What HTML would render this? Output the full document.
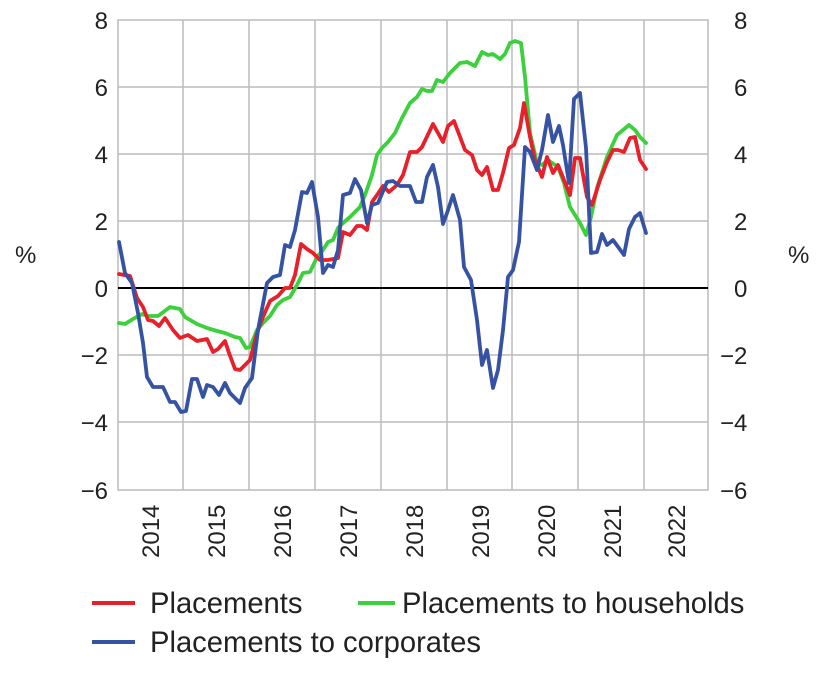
<!DOCTYPE html>
<html><head><style>body{margin:0;background:#fff}svg{display:block}text{font-family:"Liberation Sans",sans-serif;fill:#222}</style></head><body>
<svg width="828" height="686" viewBox="0 0 828 686">
<g stroke="#bbb" stroke-width="1.5" fill="none">
<rect x="118" y="20" width="590" height="470"/>
<path d="M183 20V490M249 20V490M315 20V490M381 20V490M447 20V490M512 20V490M578 20V490M644 20V490"/>
<path d="M118 87H708M118 154H708M118 221H708M118 355H708M118 422H708"/>
</g>
<line x1="118" y1="288" x2="708" y2="288" stroke="#000" stroke-width="2"/>
<g font-size="24" text-anchor="end">
<text x="108" y="29">8</text><text x="108" y="96">6</text><text x="108" y="163">4</text><text x="108" y="230">2</text><text x="108" y="297">0</text><text x="108" y="364">−2</text><text x="108" y="431">−4</text><text x="108" y="499">−6</text>
</g>
<g font-size="24" text-anchor="start">
<text x="734" y="29">8</text><text x="734" y="96">6</text><text x="734" y="163">4</text><text x="734" y="230">2</text><text x="734" y="297">0</text><text x="720" y="364">−2</text><text x="720" y="431">−4</text><text x="720" y="499">−6</text>
</g>
<text x="15" y="263" font-size="24">%</text><text x="788" y="263" font-size="24">%</text>
<g font-size="24" text-anchor="start">
<text transform="translate(159,558) rotate(-90)">2014</text>
<text transform="translate(225,558) rotate(-90)">2015</text>
<text transform="translate(291,558) rotate(-90)">2016</text>
<text transform="translate(357,558) rotate(-90)">2017</text>
<text transform="translate(423,558) rotate(-90)">2018</text>
<text transform="translate(489,558) rotate(-90)">2019</text>
<text transform="translate(555,558) rotate(-90)">2020</text>
<text transform="translate(621,558) rotate(-90)">2021</text>
<text transform="translate(685,558) rotate(-90)">2022</text>
</g>
<g fill="none" stroke-width="3.8" stroke-linejoin="round" stroke-linecap="round">
<polyline stroke="#3cd03c" points="119,323 125,324 133,319 142,314 148,316 158,316 170,307 180,309 185,317 197,324 207,328 217,331 225,333 235,337 240,338 246,348 250,347 257,330 263,323 270,316 277,305 283,300 290,297 297,285 303,273 310,272 317,257 323,250 328,242 333,240 338,228 343,223 350,217 360,207 365,195 372,175 377,155 382,148 388,142 395,133 402,118 410,103 417,97 422,89 427,91 432,91 437,80 443,82 450,73 460,63 467,62 475,66 482,52 488,55 493,54 500,59 505,54 510,43 515,41 521,43 525,77 530,133 537,163 542,165 548,160 558,167 564,183 570,207 580,223 586,235 591,217 597,188 607,157 617,135 623,130 629,125 635,130 640,137 646,143"/>
<polyline stroke="#e8202a" points="119,274 130,276 137,298 143,307 148,320 153,321 159,326 165,318 173,330 180,338 188,335 197,341 207,339 213,352 218,349 225,341 229,353 235,369 240,370 250,360 257,333 263,317 270,301 278,296 285,288 290,288 295,275 301,244 307,249 313,253 320,260 328,260 338,258 343,232 350,235 357,226 362,226 367,230 372,202 377,195 383,186 389,192 397,185 403,175 410,152 417,152 422,147 433,124 443,142 448,126 454,121 465,150 472,155 477,170 482,175 487,167 493,190 498,190 503,173 509,148 514,145 520,128 524,103 530,137 535,160 542,177 547,157 553,173 558,165 564,180 570,195 575,158 580,158 587,197 592,205 600,180 607,162 613,150 618,150 624,152 630,138 635,137 640,160 646,169"/>
<polyline stroke="#3653a3" points="119,242 125,273 132,283 138,313 143,343 147,377 153,387 163,387 170,402 175,402 181,412 186,411 192,379 197,379 203,397 207,385 213,387 219,395 225,383 230,393 240,403 245,388 252,378 258,330 267,283 273,277 280,275 285,245 290,247 295,230 302,192 307,193 312,182 318,217 323,273 328,265 333,267 338,250 343,195 350,193 355,179 361,190 367,223 372,205 378,203 387,182 393,181 400,186 410,186 416,202 422,202 427,177 433,165 438,187 443,224 447,213 453,195 460,220 464,267 471,280 477,320 482,365 487,350 493,388 498,370 503,330 508,277 513,270 519,242 525,147 530,152 537,170 542,150 548,115 553,142 559,126 563,145 569,183 574,99 580,93 586,148 591,253 597,252 602,234 607,245 613,240 624,255 629,229 635,217 640,213 646,233"/>
</g>
<g stroke-width="4">
<line x1="92" y1="603" x2="135" y2="603" stroke="#e8202a"/>
<line x1="358" y1="603" x2="395" y2="603" stroke="#3cd03c"/>
<line x1="92" y1="642" x2="135" y2="642" stroke="#3653a3"/>
</g>
<g font-size="29.2">
<text x="150" y="613">Placements</text>
<text x="402" y="613">Placements to households</text>
<text x="150" y="652">Placements to corporates</text>
</g>
</svg>
</body></html>
